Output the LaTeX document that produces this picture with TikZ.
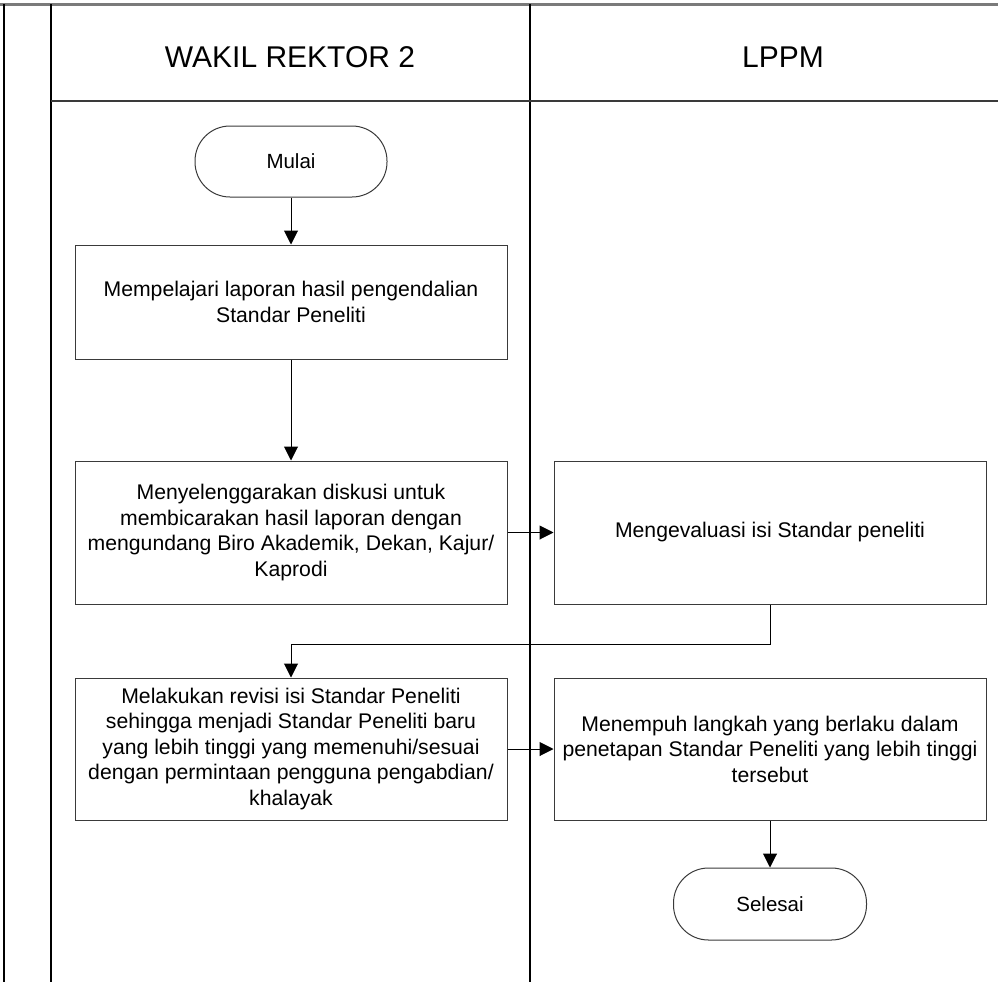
\documentclass[tikz,border=0pt]{standalone}
\usepackage{fontspec}
\setmainfont{Liberation Sans}
\usetikzlibrary{arrows.meta,calc,positioning}
\definecolor{laneInk}{HTML}{000000}
\definecolor{boxInk}{HTML}{3A3A3A}
\definecolor{topGray}{HTML}{7A7A7A}

\begin{document}
\begin{tikzpicture}[x=1pt,y=-1pt,>={Triangle[width=14pt,length=14pt]},line join=miter]
\useasboundingbox[fill=white] (0,0) rectangle (998,982);
\tikzset{lane/.style={draw=laneInk,line width=1.4pt},headline/.style={draw=boxInk,line width=1.3pt},
  prosesbox/.style={draw=boxInk,line width=1pt,fill=white,minimum width=432pt,align=center,font=\fontsize{21.2}{25.5}\selectfont},
  terminal/.style={draw=boxInk,line width=1pt,fill=white,minimum width=192pt,minimum height=71pt,rounded corners=35pt,font=\fontsize{20.5}{25}\selectfont},
  alir/.style={draw=black,line width=1pt,->}}
% kerangka lajur
\draw[draw=topGray,line width=3pt] (0,4.5) -- (998,4.5);
\draw[lane] (4,4.5) -- (4,982); \draw[lane] (51,4.5) -- (51,982); \draw[lane] (530,4.5) -- (530,982);
\draw[headline] (51,101) -- (998,101);
\node[font=\fontsize{30}{34}\selectfont] (hdwr) at (290,57) {WAKIL REKTOR 2};
\node[font=\fontsize{30}{34}\selectfont] (hdlppm) at (783,57) {LPPM};
% langkah-langkah
\node[terminal] (mulai) at (291,161.5) {Mulai};
\node[prosesbox,minimum height=114pt] (kaji) at (291,302) {Mempelajari laporan hasil pengendalian\\Standar Peneliti};
\node[prosesbox,minimum height=143pt] (diskusi) at (291,532.5) {Menyelenggarakan diskusi untuk\\membicarakan hasil laporan dengan\\mengundang Biro Akademik, Dekan, Kajur/\\Kaprodi};
\node[prosesbox,minimum height=143pt] (evaluasi) at (770,532.5) {Mengevaluasi isi Standar peneliti};
\node[prosesbox,minimum height=142pt] (revisi) at (291,749) {Melakukan revisi isi Standar Peneliti\\sehingga menjadi Standar Peneliti baru\\yang lebih tinggi yang memenuhi/sesuai\\dengan permintaan pengguna pengabdian/\\khalayak};
\node[prosesbox,minimum height=142pt] (tempuh) at (770,749) {Menempuh langkah yang berlaku dalam\\penetapan Standar Peneliti yang lebih tinggi\\tersebut};
\node[terminal,minimum width=193pt,minimum height=72pt] (selesai) at (770,904) {Selesai};
\coordinate (belok) at (291,644.5);
% panah
\draw[alir] (mulai) -- (kaji); \draw[alir] (kaji) -- (diskusi); \draw[alir] (diskusi) -- (evaluasi);
\draw[alir] (evaluasi.south) |- (belok) -- (revisi.north);
\draw[alir] (revisi) -- (tempuh); \draw[alir] (tempuh) -- (selesai);
\end{tikzpicture}
\end{document}
